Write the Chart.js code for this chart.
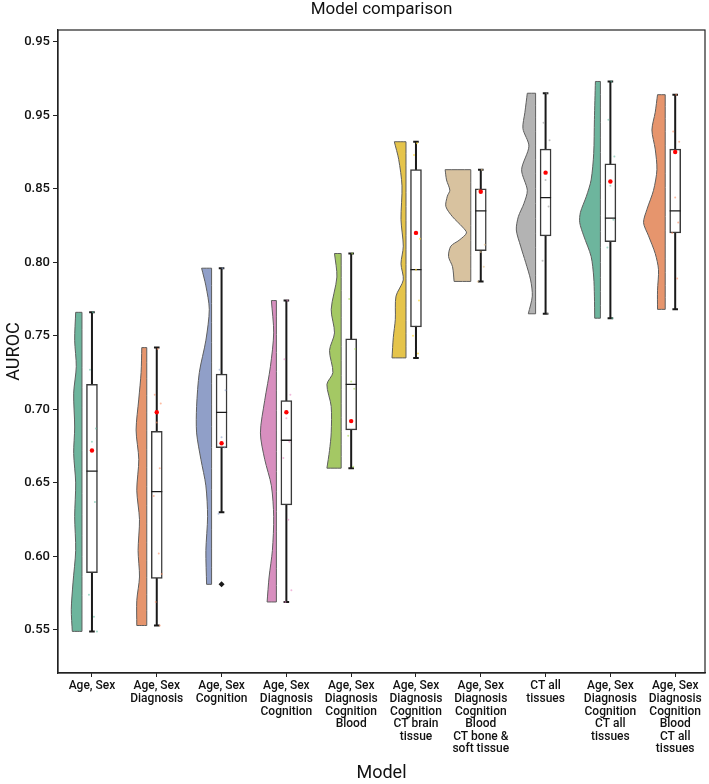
<!DOCTYPE html>
<html>
<head>
<meta charset="utf-8">
<script src="https://cdn.jsdelivr.net/npm/chart.js@4.4.1/dist/chart.umd.min.js"></script>
<style>
  html, body { margin: 0; padding: 0; background: #fff; }
</style>
</head>
<body>
<canvas id="modelChart" width="709" height="784"></canvas>
<script>
// models on the x axis
const categories = [
  ['Age, Sex'],
  ['Age, Sex', 'Diagnosis'],
  ['Age, Sex', 'Cognition'],
  ['Age, Sex', 'Diagnosis', 'Cognition'],
  ['Age, Sex', 'Diagnosis', 'Cognition', 'Blood'],
  ['Age, Sex', 'Diagnosis', 'Cognition', 'CT brain', 'tissue'],
  ['Age, Sex', 'Diagnosis', 'Cognition', 'Blood', 'CT bone &', 'soft tissue'],
  ['CT all', 'tissues'],
  ['Age, Sex', 'Diagnosis', 'Cognition', 'CT all', 'tissues'],
  ['Age, Sex', 'Diagnosis', 'Cognition', 'Blood', 'CT all', 'tissues']
];

// box plot summary
const whiskerLow  = [0.549, 0.553, 0.630, 0.569, 0.660, 0.735, 0.787, 0.765, 0.762, 0.768];
const q1          = [0.589, 0.585, 0.674, 0.635, 0.686, 0.756, 0.808, 0.818, 0.814, 0.820];
const median      = [0.658, 0.644, 0.698, 0.679, 0.717, 0.795, 0.835, 0.844, 0.830, 0.835];
const q3          = [0.717, 0.685, 0.724, 0.706, 0.748, 0.863, 0.850, 0.877, 0.867, 0.877];
const whiskerHigh = [0.766, 0.742, 0.796, 0.774, 0.806, 0.882, 0.863, 0.915, 0.923, 0.914];
const means       = [0.672, 0.698, 0.677, 0.698, 0.692, 0.820, 0.848, 0.861, 0.855, 0.875];
const outliers    = [[], [], [0.581], [], [], [], [], [], [], []];

// half violin outline: AUROC levels (top to bottom) and relative density
const violinLevels = [
  [0.766, 0.747, 0.729, 0.711, 0.688, 0.670, 0.650, 0.627, 0.604, 0.582, 0.564, 0.549],
  [0.742, 0.725, 0.707, 0.686, 0.666, 0.645, 0.625, 0.604, 0.586, 0.570, 0.553],
  [0.796, 0.784, 0.768, 0.747, 0.725, 0.702, 0.684, 0.666, 0.648, 0.627, 0.604, 0.581],
  [0.774, 0.752, 0.729, 0.706, 0.684, 0.666, 0.648, 0.627, 0.604, 0.586, 0.569],
  [0.806, 0.790, 0.768, 0.752, 0.740, 0.725, 0.717, 0.702, 0.684, 0.672, 0.660],
  [0.882, 0.870, 0.852, 0.829, 0.811, 0.799, 0.788, 0.777, 0.761, 0.749, 0.735],
  [0.863, 0.856, 0.849, 0.845, 0.838, 0.831, 0.824, 0.820, 0.815, 0.811, 0.804, 0.797, 0.787],
  [0.915, 0.902, 0.891, 0.879, 0.863, 0.849, 0.840, 0.831, 0.822, 0.811, 0.800, 0.788, 0.777, 0.765],
  [0.923, 0.897, 0.874, 0.856, 0.845, 0.834, 0.827, 0.818, 0.804, 0.790, 0.777, 0.762],
  [0.914, 0.902, 0.890, 0.877, 0.863, 0.849, 0.836, 0.827, 0.818, 0.806, 0.795, 0.781, 0.768]
];
const violinDensity = [
  [6.3, 7.3, 5.7, 8.3, 7.3, 8.3, 6.3, 7.3, 6.3, 9, 10.7, 9.7],
  [5, 5.7, 8, 10.7, 8, 10, 7.3, 8.7, 7.3, 10, 10],
  [10, 5.7, 2.3, 5.7, 12.3, 15, 15, 10.7, 5.7, 4, 5.7, 5],
  [5, 2.7, 6, 11.7, 16, 11.7, 5, 2.7, 4, 7.3, 9.3],
  [6.7, 4.3, 10, 6.7, 11.7, 8.3, 14.3, 10, 10, 11.7, 14.3],
  [11.7, 7.3, 4, 5, 2.7, 5, 2.7, 10, 10.7, 12.7, 14],
  [25.7, 24.3, 21, 23.5, 25, 18.3, 8.3, 4.3, 11.7, 20, 22.3, 18.3, 16.7],
  [8.3, 10.7, 12.7, 6.7, 14, 8.3, 11.7, 17.3, 19.3, 15, 10, 5, 3.3, 7.3],
  [5, 6, 6.7, 9.3, 14, 20, 20.7, 16.7, 9.3, 6.7, 6, 5.7],
  [7.7, 10, 13.3, 10, 8.3, 11.7, 18.3, 21.7, 16.7, 10, 6.7, 7.7, 7.7]
];

// individual fold scores (rain)
const stripValues = [
  [0.766, 0.727, 0.687, 0.678, 0.637, 0.574, 0.559, 0.549],
  [0.741, 0.710, 0.704, 0.691, 0.660, 0.641, 0.602, 0.588, 0.569, 0.553],
  [0.796, 0.727, 0.713, 0.681, 0.674, 0.629],
  [0.774, 0.734, 0.710, 0.694, 0.678, 0.667, 0.625, 0.577, 0.569],
  [0.806, 0.775, 0.741, 0.719, 0.714, 0.682, 0.661],
  [0.881, 0.873, 0.816, 0.795, 0.774, 0.750, 0.738],
  [0.863, 0.849, 0.812, 0.807, 0.797, 0.787],
  [0.915, 0.895, 0.883, 0.856, 0.838, 0.801, 0.765],
  [0.923, 0.897, 0.872, 0.852, 0.829, 0.810, 0.762],
  [0.914, 0.889, 0.882, 0.844, 0.827, 0.820, 0.789]
];

const yTickValues = [0.55, 0.60, 0.65, 0.70, 0.75, 0.80, 0.85, 0.90, 0.95];
const yTickLabels = ['0.55', '0.60', '0.65', '0.70', '0.75', '0.80', '0.85', '0.95', '0.95'];

const palette = ['#6db59d', '#e6956d', '#909fc8', '#d88fbf', '#a4c864', '#e5c44b', '#d8c29f', '#b3b3b3', '#6db59d', '#e6956d'];
const dotColors = ['rgba(102,194,165,0.6)', 'rgba(252,141,98,0.6)', 'rgba(141,160,203,0.6)', 'rgba(231,138,195,0.6)',
  'rgba(166,216,84,0.6)', 'rgba(255,217,47,0.7)', 'rgba(229,196,148,0.7)', 'rgba(150,150,150,0.6)',
  'rgba(102,194,165,0.6)', 'rgba(252,141,98,0.6)'];

Chart.defaults.font.family = 'Roboto, "DejaVu Sans", sans-serif';
Chart.defaults.color = '#111';

const PX = 1 / 64.9;          // one pixel in x units
const VIOLIN_EDGE = 10 * PX;  // gap between violin and box centre
const BOX_HALF = 5.5 * PX;
const CAP_HALF = 2.8 * PX;
const JITTER = [1, -2, 4, 0, 3, -3, 2, 5, -1, 3];

// violins, one closed shape each
const violinSets = violinLevels.map((levels, i) => {
  const edge = i - VIOLIN_EDGE;
  const top = levels[0];
  const bottom = levels[levels.length - 1];
  const pts = [{x: edge, y: top}, {x: edge, y: top}];
  levels.forEach((lv, k) => {
    const p = {x: edge - violinDensity[i][k] * PX, y: lv};
    pts.push(p);
    if (k === 0 || k === levels.length - 1) pts.push({x: p.x, y: p.y});
  });
  pts.push({x: edge, y: bottom}, {x: edge, y: bottom}, {x: edge, y: top});
  return {
    type: 'line', data: pts, fill: 'shape', backgroundColor: palette[i],
    borderColor: '#5e5e5e', borderWidth: 1, pointRadius: 0, tension: 0.28, order: 6
  };
});

const whiskerPts = [];
const capPts = [];
const medianPts = [];
whiskerLow.forEach((lo, i) => {
  whiskerPts.push({x: i, y: lo}, {x: i, y: whiskerHigh[i]}, {x: i, y: null});
  capPts.push({x: i - CAP_HALF, y: lo}, {x: i + CAP_HALF, y: lo}, {x: i, y: null});
  capPts.push({x: i - CAP_HALF, y: whiskerHigh[i]}, {x: i + CAP_HALF, y: whiskerHigh[i]}, {x: i, y: null});
  medianPts.push({x: i - BOX_HALF, y: median[i]}, {x: i + BOX_HALF, y: median[i]}, {x: i, y: null});
});

const stripPts = [];
const stripCols = [];
stripValues.forEach((vals, i) => {
  vals.forEach((v, j) => {
    stripPts.push({x: i + JITTER[j % JITTER.length] * PX, y: v});
    stripCols.push(dotColors[i]);
  });
});

const outlierPts = [];
outliers.forEach((vals, i) => vals.forEach(v => outlierPts.push({x: i, y: v})));

const framePlugin = {
  id: 'frame',
  afterDraw(chart) {
    const {ctx, chartArea: a} = chart;
    ctx.save();
    ctx.strokeStyle = '#222';
    ctx.lineWidth = 1.2;
    ctx.strokeRect(a.left, a.top, a.right - a.left, a.bottom - a.top);
    ctx.restore();
  }
};

const ctx = document.getElementById('modelChart').getContext('2d');

const modelChart = new Chart(ctx, {
  type: 'scatter',
  data: {
    datasets: [
      ...violinSets,
      {
        type: 'line', data: whiskerPts, borderColor: '#1a1a1a', borderWidth: 2,
        pointRadius: 0, fill: false, order: 5
      },
      {
        type: 'line', data: capPts, borderColor: '#1a1a1a', borderWidth: 2,
        pointRadius: 0, fill: false, order: 5
      },
      {
        type: 'bar', data: q1.map((v, i) => ({x: i, y: [v, q3[i]]})),
        backgroundColor: '#ffffff', borderColor: '#3a3a3a', borderWidth: 1.5,
        borderSkipped: false, barThickness: 11, grouped: false, order: 4
      },
      {
        type: 'line', data: medianPts, borderColor: '#1a1a1a', borderWidth: 1.3,
        pointRadius: 0, fill: false, order: 3
      },
      {
        data: stripPts, pointRadius: 1, pointBackgroundColor: stripCols,
        pointBorderWidth: 0, order: 2
      },
      {
        data: outlierPts, pointStyle: 'rectRot', pointRadius: 3,
        pointBackgroundColor: '#1a1a1a', pointBorderWidth: 0, order: 1
      },
      {
        data: means.map((m, i) => ({x: i, y: m})), pointRadius: 2.2,
        pointBackgroundColor: '#ff0000', pointBorderWidth: 0, order: 0
      }
    ]
  },
  options: {
    responsive: false,
    animation: false,
    layout: { padding: { left: 0, right: 2.5, top: 0, bottom: 0 } },
    plugins: {
      legend: { display: false },
      tooltip: { enabled: false }
    },
    scales: {
      x: {
        type: 'linear', min: -0.524, max: 9.46, offset: false,
        afterBuildTicks: s => { s.ticks = categories.map((c, i) => ({value: i})); },
        afterFit: s => { s.height = 111; },
        ticks: {
          callback: (v, i) => categories[i], autoSkip: false, maxRotation: 0,
          font: { size: 12, weight: '500', lineHeight: 1.05 }, color: '#111', padding: 3
        },
        grid: { display: true, offset: false, drawOnChartArea: false, drawTicks: true, tickLength: 4, color: '#222' },
        border: { display: true, color: '#222', width: 1.2 },
        title: { display: true, text: 'Model', color: '#111', font: { size: 18 }, padding: { top: 0, bottom: 0 } }
      },
      // top axis only carries the chart title, centred over the plot area
      x2: {
        type: 'linear', position: 'top', min: -0.524, max: 9.46,
        afterFit: s => { s.height = 30; },
        ticks: { display: false },
        grid: { display: false, drawTicks: false },
        border: { display: false },
        title: { display: true, text: 'Model comparison', color: '#111', font: { size: 17 }, padding: { top: 0, bottom: 0 } }
      },
      y: {
        type: 'linear', min: 0.5207, max: 0.958, beginAtZero: false,
        afterBuildTicks: s => { s.ticks = yTickValues.map(v => ({value: v})); },
        afterFit: s => { s.width = 58; },
        ticks: { callback: (v, i) => yTickLabels[i], font: { size: 13, weight: '500' }, color: '#111', padding: 3 },
        grid: { display: true, drawOnChartArea: false, drawTicks: true, tickLength: 5, color: '#222' },
        border: { display: true, color: '#222', width: 1.2 },
        title: { display: true, text: 'AUROC', color: '#111', font: { size: 18 }, padding: { top: 4, bottom: 0 } }
      }
    }
  },
  plugins: [framePlugin]
});
</script>
</body>
</html>
